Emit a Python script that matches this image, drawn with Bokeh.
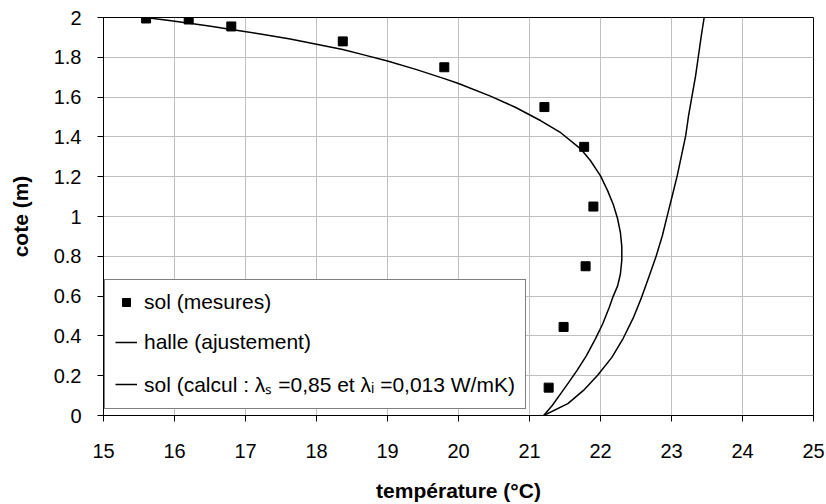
from bokeh.plotting import figure
from bokeh.models import Range1d, FixedTicker, Legend, LegendItem
from bokeh.embed import file_html
from bokeh.resources import INLINE

# Measured soil temperatures (sol (mesures))
mes_T = [15.6, 16.2, 16.8, 18.37, 19.8, 21.21, 21.77, 21.9, 21.79, 21.48, 21.27]
mes_z = [1.995, 1.99, 1.955, 1.88, 1.75, 1.55, 1.35, 1.05, 0.75, 0.445, 0.14]

# Fitted hall curve (halle (ajustement))
halle_T = [15.59, 15.9, 16.21, 16.51, 16.8, 17.21, 17.63, 18.0, 18.37, 18.68, 19.0,
           19.41, 19.8, 20.0, 20.45, 20.8, 21.16, 21.44, 21.72, 21.86, 22.0,
           22.1, 22.18, 22.24, 22.28, 22.3, 22.3, 22.28, 22.24, 22.18, 22.12,
           22.03, 21.93, 21.8, 21.67, 21.55, 21.44, 21.32, 21.2]
halle_z = [2.0, 1.986, 1.971, 1.956, 1.94, 1.917, 1.892, 1.866, 1.839, 1.811, 1.781,
           1.738, 1.693, 1.668, 1.605, 1.549, 1.481, 1.421, 1.34, 1.28, 1.204,
           1.13, 1.06, 0.99, 0.92, 0.85, 0.78, 0.71, 0.65, 0.6, 0.54,
           0.46, 0.386, 0.3, 0.227, 0.165, 0.11, 0.05, 0.0]

# Computed soil curve (sol (calcul))
calc_T = [21.2, 21.54, 21.76, 21.96, 22.16, 22.32, 22.46, 22.58, 22.68, 22.78, 22.87,
          22.94, 23.01, 23.08, 23.14, 23.2, 23.24, 23.29, 23.34, 23.38, 23.42, 23.46]
calc_z = [0.0, 0.06, 0.126, 0.202, 0.292, 0.388, 0.489, 0.595, 0.695, 0.796, 0.902,
          1.003, 1.103, 1.204, 1.305, 1.406, 1.506, 1.607, 1.708, 1.809, 1.909, 2.0]

x_ticks = [15, 16, 17, 18, 19, 20, 21, 22, 23, 24, 25]
y_ticks = [0, 0.2, 0.4, 0.6, 0.8, 1.0, 1.2, 1.4, 1.6, 1.8, 2.0]
y_tick_labels = ["0", "0.2", "0.4", "0.6", "0.8", "1", "1.2", "1.4", "1.6", "1.8", "2"]

FONT = "Liberation Sans"

p = figure(width=826, height=504, output_backend="svg", toolbar_location=None,
           x_range=Range1d(15, 25), y_range=Range1d(0, 2),
           min_border_left=103, min_border_right=13, min_border_top=17, min_border_bottom=89)

p.background_fill_color = "white"
p.border_fill_color = "white"
p.outline_line_color = "black"
p.outline_line_width = 1

for g in (p.xgrid, p.ygrid):
    g.grid_line_color = "#c0c0c0"
    g.grid_line_width = 1

p.xaxis.ticker = FixedTicker(ticks=x_ticks)
p.yaxis.ticker = FixedTicker(ticks=y_ticks)
p.xgrid.ticker = FixedTicker(ticks=x_ticks)
p.ygrid.ticker = FixedTicker(ticks=y_ticks)
p.yaxis.major_label_overrides = {t: l for t, l in zip(y_ticks, y_tick_labels)}
p.xaxis.major_label_overrides = {t: str(t) for t in x_ticks}

for ax in (p.xaxis, p.yaxis):
    ax.axis_line_color = "black"
    ax.axis_line_width = 1
    ax.major_tick_line_color = "black"
    ax.major_tick_in = 0
    ax.major_tick_out = 6
    ax.minor_tick_line_color = None
    ax.major_label_text_font = FONT
    ax.major_label_text_font_size = "20px"
    ax.major_label_text_color = "black"
    ax.axis_label_text_font = FONT
    ax.axis_label_text_font_size = "21px"
    ax.axis_label_text_font_style = "bold"
    ax.axis_label_text_color = "black"

p.xaxis.axis_label = "température (°C)"
p.yaxis.axis_label = "cote (m)"
p.xaxis.major_label_standoff = 22
p.yaxis.major_label_standoff = 16
p.xaxis.axis_label_standoff = 18
p.yaxis.axis_label_standoff = 19

r_mes = p.scatter(mes_T, mes_z, marker="square", size=9, fill_color="black", line_color="black")
r_halle = p.line(halle_T, halle_z, line_color="black", line_width=1.5)
r_calc = p.line(calc_T, calc_z, line_color="black", line_width=1.5)

legend = Legend(items=[
    LegendItem(label="sol (mesures)", renderers=[r_mes]),
    LegendItem(label="halle (ajustement)", renderers=[r_halle]),
    LegendItem(label="sol (calcul : λₛ =0,85 et λᵢ =0,013 W/mK)", renderers=[r_calc]),
], location=(1, 6))
legend.margin = 0
legend.padding = 10
legend.spacing = 16
legend.glyph_width = 22
legend.glyph_height = 20
legend.label_standoff = 7
legend.label_text_font = FONT
legend.label_text_font_size = "21px"
legend.label_text_color = "black"
legend.border_line_color = "black"
legend.border_line_width = 1
legend.background_fill_color = "white"
legend.background_fill_alpha = 1
p.add_layout(legend, "center")

open("out.html", "w").write(file_html(p, INLINE))
